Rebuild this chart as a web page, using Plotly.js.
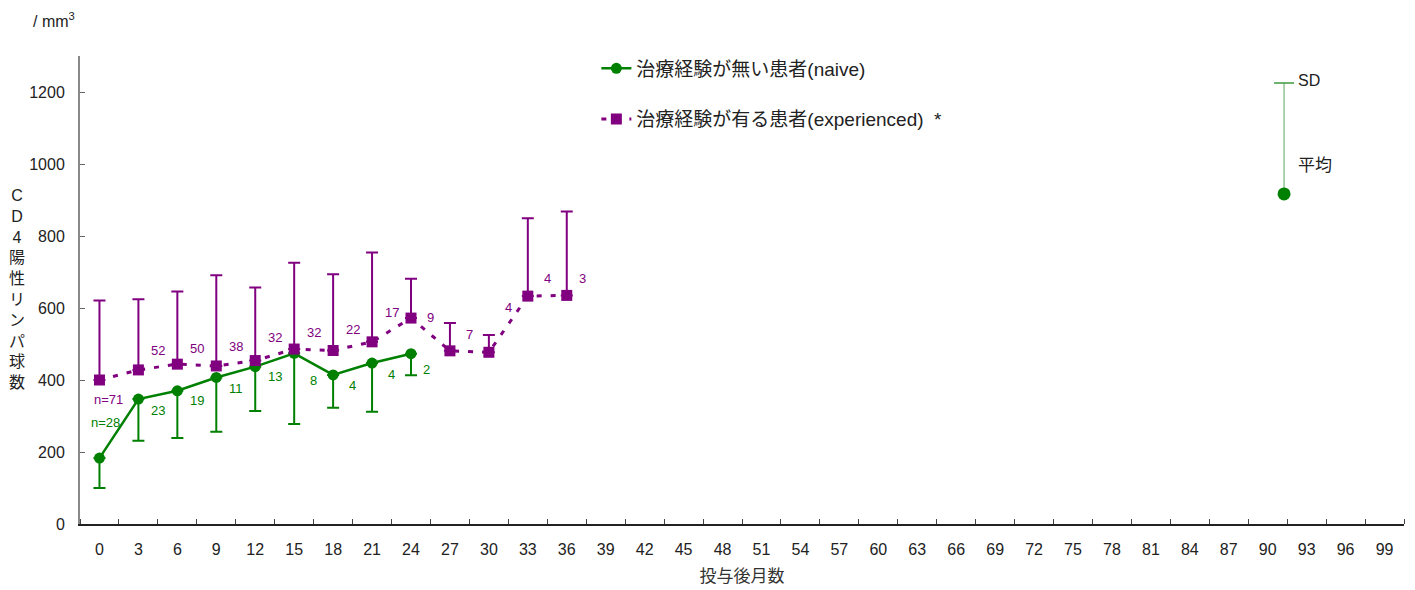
<!DOCTYPE html>
<html>
<head>
<meta charset="utf-8">
<script src="https://cdn.plot.ly/plotly-3.0.1.min.js"></script>
<style>html,body{margin:0;padding:0;background:#fff;}#chart{width:1415px;height:590px;}</style>
</head>
<body>
<div id="chart"></div>
<script>
// ---- data ----
const monthTicks = [0,3,6,9,12,15,18,21,24,27,30,33,36,39,42,45,48,51,54,57,60,63,66,69,72,75,78,81,84,87,90,93,96,99];
const naiveMonths = [0,3,6,9,12,15,18,21,24];
const naiveMean   = [183,347,370,407,437,474,414,447,473];
const naiveSD     = [83,116,131,151,123,196,91,135,60];
const naiveN      = ["n=28","23","19","11","13","8","4","4","2"];

const expMonths = [0,3,6,9,12,15,18,21,24,27,30,33,36];
const expMean   = [400,428,444,439,454,486,482,506,572,481,477,633,635];
const expSD     = [221,196,202,252,203,240,212,248,109,77,48,216,233];
const expN      = ["n=71","52","50","38","32","32","22","17","9","7","4","4","3"];

const sampleMonth = 91.26;
const sampleMean  = 917;
const sampleSD    = 308;

const GREEN = "#008000", PURPLE = "#800080";
const FONT = "Liberation Sans, Arial, sans-serif";
const JFONT = "Liberation Sans, Noto Sans CJK JP, sans-serif";
const capHalf = 0.77; // months, half width of the sample's SD cap

const traces = [
  {
    x: naiveMonths, y: naiveMean, type: "scatter", mode: "lines+markers",
    name: "治療経験が無い患者(naive)",
    line: {color: GREEN, width: 2.5},
    marker: {color: GREEN, size: 11, symbol: "circle"},
    error_y: {type: "data", symmetric: false, array: naiveMean.map(() => 0), arrayminus: naiveSD,
              color: GREEN, thickness: 2, width: 6},
    legendgroup: "a"
  },
  {
    x: expMonths, y: expMean, type: "scatter", mode: "lines+markers",
    name: "治療経験が有る患者(experienced)  *",
    line: {color: PURPLE, width: 3, dash: "5px,9px"},
    marker: {color: PURPLE, size: 11, symbol: "square"},
    error_y: {type: "data", symmetric: false, array: expSD, arrayminus: expMean.map(() => 0),
              color: PURPLE, thickness: 2, width: 6},
    legendgroup: "b"
  },
  // SD explanation sample: whisker, cap, mean dot
  {
    x: [sampleMonth, sampleMonth], y: [sampleMean, sampleMean + sampleSD], type: "scatter", mode: "lines",
    showlegend: false, line: {color: "#5aa85a", width: 1}
  },
  {
    x: [sampleMonth - capHalf, sampleMonth + capHalf], y: [sampleMean + sampleSD, sampleMean + sampleSD],
    type: "scatter", mode: "lines", showlegend: false, line: {color: "#3c9a3c", width: 1.5}
  },
  {
    x: [sampleMonth], y: [sampleMean], type: "scatter", mode: "markers", showlegend: false,
    marker: {color: GREEN, size: 13}
  }
];

const annotations = [];
function addLabels(xs, ys, labels, color, shiftY, first) {
  labels.forEach((t, i) => {
    let x, y, xs2 = 0, ys2 = shiftY;
    if (i === 0) { x = xs[0]; y = ys[0]; xs2 = first[0]; ys2 = first[1]; }
    else if (i < xs.length - 1) { x = (xs[i] + xs[i+1]) / 2; y = (ys[i] + ys[i+1]) / 2; }
    else { x = xs[i] + 1.2; y = ys[i]; }
    annotations.push({x: x, y: y, xref: "x", yref: "y", text: t, showarrow: false,
      xshift: xs2, yshift: ys2, font: {family: FONT, size: 13, color: color}});
  });
}
addLabels(naiveMonths, naiveMean, naiveN, GREEN, -16, [6, 36]);
addLabels(expMonths, expMean, expN, PURPLE, 17, [9, -19]);

annotations.push(
  {xref: "paper", yref: "paper", x: -0.0476, y: 0.503, xanchor: "center", yanchor: "middle",
   text: "C<br>D<br>4<br>陽<br>性<br>リ<br>ン<br>パ<br>球<br>数", showarrow: false,
   font: {family: JFONT, size: 16, color: "#222"}},
  {xref: "paper", yref: "paper", x: -0.037, y: 1.077, xanchor: "left", yanchor: "middle",
   text: "/ mm<sup>3</sup>", showarrow: false, font: {family: FONT, size: 16, color: "#222"}},
  {x: sampleMonth, y: sampleMean + sampleSD, xref: "x", yref: "y", xanchor: "left",
   xshift: 12, yshift: 3, text: "SD", showarrow: false, font: {family: FONT, size: 16, color: "#222"}},
  {x: sampleMonth, y: 997, xref: "x", yref: "y", xanchor: "left",
   xshift: 12, text: "平均", showarrow: false, font: {family: JFONT, size: 17, color: "#222"}}
);

const layout = {
  width: 1415, height: 590,
  margin: {l: 80, r: 11, t: 56, b: 66},
  paper_bgcolor: "#fff", plot_bgcolor: "#fff",
  font: {family: FONT, size: 16, color: "#222"},
  showlegend: true,
  legend: {x: 0.390, y: 1.014, xanchor: "left", yanchor: "top", bgcolor: "rgba(0,0,0,0)",
           font: {family: JFONT, size: 19, color: "#222"},
           tracegroupgap: 23, itemwidth: 30},
  xaxis: {
    range: [-1.5, 100.5], tickmode: "array", tickvals: monthTicks, ticktext: monthTicks.map(String),
    ticks: "", showgrid: false, zeroline: false, showline: true, linecolor: "#222", linewidth: 1.5,
    ticklabelstandoff: 10,
    minor: {tick0: -1.5, dtick: 3, ticks: "inside", ticklen: 5, tickcolor: "#444", tickwidth: 1, showgrid: false},
    tickfont: {family: FONT, size: 16, color: "#222"},
    title: {text: "投与後月数", font: {family: JFONT, size: 17, color: "#333"}, standoff: 13}
  },
  yaxis: {
    range: [0, 1300], tickmode: "array", tickvals: [0,200,400,600,800,1000,1200],
    ticks: "inside", ticklen: 5, tickcolor: "#666", showgrid: false, zeroline: false,
    showline: true, linecolor: "#888", linewidth: 2, ticklabelstandoff: 10,
    tickfont: {family: FONT, size: 16, color: "#222"}
  },
  annotations: annotations
};

Plotly.newPlot("chart", traces, layout, {displayModeBar: false, staticPlot: true});
</script>
</body>
</html>
